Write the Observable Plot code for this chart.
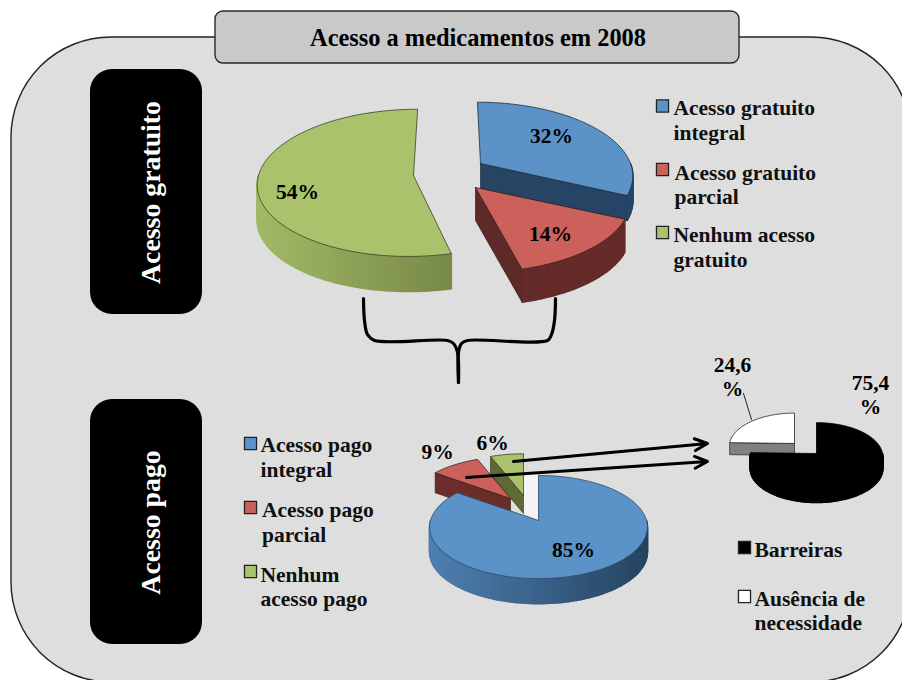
<!DOCTYPE html>
<html lang="pt">
<head>
<meta charset="utf-8">
<script src="https://cdn.jsdelivr.net/npm/d3@7"></script>
<script src="https://cdn.jsdelivr.net/npm/@observablehq/plot@0.6"></script>
<style>html,body{margin:0;padding:0;background:#fff}svg{display:block}</style>
</head>
<body>
<div id="chart"></div>
<script>
// ---- data ----
const chartTitle = "Acesso a medicamentos em 2008";
const gratuitoValues = [32, 14, 54];
const gratuitoLabels = ["Acesso gratuito\nintegral", "Acesso gratuito\nparcial", "Nenhum acesso\ngratuito"];
const pagoValues = [85, 9, 6];
const pagoLabels = ["Acesso pago\nintegral", "Acesso pago\nparcial", "Nenhum\nacesso pago"];
const motivoValues = [75.4, 24.6];
const motivoLabels = ["Barreiras", "Ausência de\nnecessidade"];
const sideLabels = ["Acesso gratuito", "Acesso pago"];

// ---- styles and layout ----
const serif = "Liberation Serif, Times New Roman, serif";
const BLUE = "#5b93c8", RED = "#cc615c", GREEN = "#a9c26b", INK = "#101010";

function pieSlices(values, specs) {
  const total = d3.sum(values);
  let acc = 0;
  return values.map((v, i) => {
    const a0 = acc / total * 360;
    acc += v;
    return {...specs[i], a0, a1: acc / total * 360};
  });
}
function rimPoint(s, deg) {
  const t = deg * Math.PI / 180;
  const p = 1 / (1 + s.t * Math.cos(t));
  const dy = -s.R * Math.cos(t) * s.k * p;
  return {x: s.cx + s.R * Math.sin(t) * p + (s.skew || 0) * dy, y: s.cy + dy};
}
function angles(a0, a1) {
  const out = [];
  for (let a = a0; a < a1; a += 2) out.push(a);
  out.push(a1);
  return out;
}
const drop = (p, d) => ({x: p.x, y: p.y + d});
function poly(points, fill, stroke, strokeWidth = 0.7) {
  return Plot.line(points.concat(points[0]), {x: "x", y: "y", fill, stroke: stroke || fill, strokeWidth, curve: "linear"});
}
function sliceMarks(s) {
  const marks = [];
  const apex = {x: s.cx, y: s.cy};
  const rim = angles(s.a0, s.a1).map(a => rimPoint(s, a));
  const sin = a => Math.sin(a * Math.PI / 180);
  // cut faces
  if (sin(s.a1) > 1e-6) {
    const e = rimPoint(s, s.a1);
    marks.push(poly([apex, e, drop(e, s.depth), drop(apex, s.depth)], s.face, s.edge));
  }
  if (sin(s.a0) < -1e-6) {
    const e = rimPoint(s, s.a0);
    marks.push(poly([apex, e, drop(e, s.depth), drop(apex, s.depth)], s.face, s.edge));
  }
  // outer wall, one strip per step so the shading can vary
  const lo = Math.max(s.a0, 90), hi = Math.min(s.a1, 270);
  if (hi > lo) {
    const wall = d3.interpolateRgb(s.wallRight, s.wallLeft);
    const as = angles(lo, hi);
    const [x0, x1] = [s.cx - s.R * 1.02, s.cx + s.R * 1.02];
    d3.pairs(as).forEach(([a, b]) => {
      const p = rimPoint(s, a), q = rimPoint(s, b);
      const c = wall(Math.max(0, Math.min(1, (x1 - (p.x + q.x) / 2) / (x1 - x0))));
      marks.push(poly([p, q, drop(q, s.depth), drop(p, s.depth)], c, c, 1.6));
    });
  }
  // top face
  marks.push(poly([apex, ...rim], s.fill, s.edge, 0.8));
  return marks;
}

const gratuitoSpecs = [
  {cx: 480, cy: 163, R: 150, k: 0.47, t: 0.15, skew: 0.05, depth: 25, fill: BLUE, face: "#264464", edge: "#1d2f40", wallRight: "#264464", wallLeft: "#264464"},
  {cx: 475, cy: 187, R: 151, k: 0.45, t: 0.2, skew: 0, depth: 33, fill: RED, face: "#5e2a28", edge: "#3a1f1d", wallRight: "#662b29", wallLeft: "#5e2a28"},
  {cx: 413, cy: 175, R: 155, k: 0.47, t: 0.1, skew: -0.0625, depth: 35, fill: GREEN, face: "#5d6a35", edge: "#3a4222", wallRight: "#5d6a35", wallLeft: "#a2ba66"}
];
const pagoSpecs = [
  {cx: 538, cy: 520, R: 108, k: 0.47, t: 0.127, depth: 25, fill: BLUE, face: "#264464", edge: "#2c4a68", wallRight: "#25435f", wallLeft: "#4f80b2"},
  {cx: 510, cy: 498, R: 100, k: 0.47, t: 0.127, depth: 20, fill: RED, face: "#6a2d2a", edge: "#3a1f1d", wallRight: "#6a2d2a", wallLeft: "#6a2d2a"},
  {cx: 523, cy: 495, R: 100, k: 0.47, t: 0.127, depth: 18, fill: GREEN, face: "#5d6a35", edge: "#3a4222", wallRight: "#5d6a35", wallLeft: "#5d6a35"}
];
const motivoSpecs = [
  {cx: 816, cy: 453, R: 66, k: 0.51, t: 0.09, depth: 12, fill: "#000", face: "#000", edge: "#000", wallRight: "#000", wallLeft: "#000"},
  {cx: 794, cy: 443, R: 65, k: 0.51, t: 0.09, depth: 12, fill: "#fff", face: "#808080", edge: "#222", wallRight: "#808080", wallLeft: "#808080"}
];

const [gBlue, gRed, gGreen] = pieSlices(gratuitoValues, gratuitoSpecs);
const [pBlue, pRed, pGreen] = pieSlices(pagoValues, pagoSpecs);
const [mBlack, mWhite] = pieSlices(motivoValues, motivoSpecs);

// ---- frames ----
const panelFrame = [{x1: 11, x2: 911, y1: 37, y2: 682}];
const titleFrame = [{x1: 215, x2: 739, y1: 11, y2: 63}];
const sideFrames = [{x1: 90, x2: 202, y1: 69, y2: 314}, {x1: 90, x2: 202, y1: 399, y2: 644}];
const notch = [{x: 523, y: 474}, {x: 538, y: 474}, {x: 538, y: 520}, {x: 523, y: 512}];
const bracePaths = [
  [[363,298],[364,320],[367,334],[374,340],[447,340],[453,343],[457,352],[458,382]],
  [[555,298],[554,320],[551,334],[547,340],[467,340],[461,343],[458,352],[458,382]]
];
const arrowLinks = [
  {x1: 513, y1: 461, x2: 707, y2: 443},
  {x1: 466, y1: 477, x2: 707, y2: 461}
];
const leader = [{x: 743, y: 393}, {x: 751, y: 419}];

const pct = v => String(v).replace(".", ",") + "%";
const valueTexts = [
  {x: 551, y: 135, text: pct(gratuitoValues[0])},
  {x: 550, y: 233, text: pct(gratuitoValues[1])},
  {x: 297, y: 191, text: pct(gratuitoValues[2])},
  {x: 573, y: 549, text: pct(pagoValues[0])},
  {x: 437, y: 451, text: pct(pagoValues[1])},
  {x: 492, y: 442, text: pct(pagoValues[2])},
  {x: 870, y: 394, text: "75,4\n%"},
  {x: 732, y: 376, text: "24,6\n%"}
];
const legendRows = [
  {x: 662, y: 105.5, tx: 673, ty: 119, fill: BLUE, text: gratuitoLabels[0]},
  {x: 662, y: 169, tx: 674, ty: 183.5, fill: RED, text: gratuitoLabels[1]},
  {x: 662, y: 232, tx: 673, ty: 246, fill: GREEN, text: gratuitoLabels[2]},
  {x: 250, y: 443, tx: 260, ty: 456, fill: BLUE, text: pagoLabels[0]},
  {x: 250, y: 507, tx: 261.5, ty: 521, fill: RED, text: pagoLabels[1]},
  {x: 250, y: 571, tx: 260, ty: 585.5, fill: GREEN, text: pagoLabels[2]},
  {x: 744, y: 547, tx: 754, ty: 549, fill: "#000", text: motivoLabels[0]},
  {x: 744, y: 596, tx: 754, ty: 609.5, fill: "#fff", text: motivoLabels[1]}
];

const rectOpts = {x1: "x1", x2: "x2", y1: "y1", y2: "y2"};
const plot = Plot.plot({
  width: 902, height: 680,
  margin: 0,
  x: {type: "linear", domain: [0, 902], range: [0, 902], axis: null},
  y: {type: "linear", domain: [0, 680], range: [0, 680], axis: null},
  style: {background: "#fff", overflow: "hidden"},
  marks: [
    Plot.rect(panelFrame, {...rectOpts, rx: 100, ry: 100, fill: "#dedede", stroke: "#222", strokeWidth: 1.4}),
    Plot.rect(titleFrame, {...rectOpts, rx: 8, ry: 8, fill: "#c9c9c9", stroke: "#2a2a2a", strokeWidth: 1.4}),
    Plot.rect(sideFrames, {...rectOpts, rx: 22, ry: 22, fill: "#000"}),
    ...bracePaths.map(b => Plot.line(b, {x: d => d[0], y: d => d[1], stroke: "#000", strokeWidth: 3.2, curve: "catmull-rom"})),

    ...sliceMarks(gBlue), ...sliceMarks(gRed), ...sliceMarks(gGreen),
    poly(notch, "#f4f4f4", "#f4f4f4", 0.5),
    ...sliceMarks(pGreen), ...sliceMarks(pRed), ...sliceMarks(pBlue),
    ...sliceMarks(mWhite), ...sliceMarks(mBlack),

    Plot.line(leader, {x: "x", y: "y", stroke: "#222", strokeWidth: 1}),
    Plot.arrow(arrowLinks, {x1: "x1", y1: "y1", x2: "x2", y2: "y2", stroke: "#000", strokeWidth: 3, headLength: 7, headAngle: 50}),

    Plot.text([chartTitle], {x: 477.5, y: 38, text: d => d, fontFamily: serif, fontWeight: "bold", fontSize: 24.4, fill: "#000"}),
    Plot.text(sideLabels, {x: 151, y: (d, i) => [192, 522][i], text: d => d, rotate: -90, fontFamily: serif, fontWeight: "bold", fontSize: 27.8, fill: "#fff"}),
    Plot.text(valueTexts, {x: "x", y: "y", text: "text", fontFamily: serif, fontWeight: "bold", fontSize: 21.5, lineHeight: 1.12, fill: "#000"}),
    Plot.dot(legendRows, {x: "x", y: "y", symbol: "square", r: 6.8, fill: "fill", stroke: "#222", strokeWidth: 1.3}),
    Plot.text(legendRows, {x: "tx", y: "ty", text: "text", textAnchor: "start", fontFamily: serif, fontWeight: "bold", fontSize: 21.5, lineHeight: 1.15, fill: INK})
  ]
});
document.getElementById("chart").append(plot);
</script>
</body>
</html>
